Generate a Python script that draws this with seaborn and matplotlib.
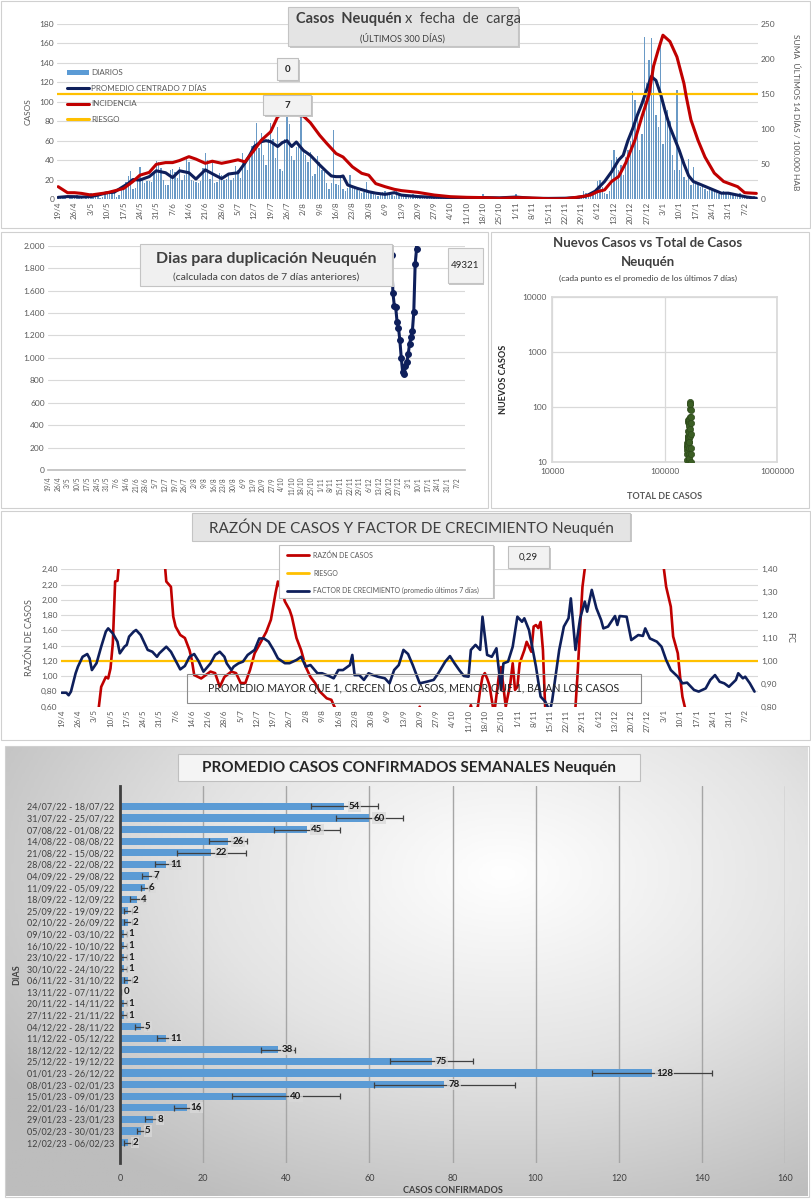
import numpy as np
import pandas as pd
import matplotlib
matplotlib.use('Agg')
import matplotlib.pyplot as plt
import matplotlib.ticker as mticker
from matplotlib.patches import Rectangle, Patch
from matplotlib.lines import Line2D
import seaborn as sns

W, H = 811, 1200

# ---------------- datos ----------------
# etiquetas del eje x (cada 7 dias desde 19/4/2022)
fechas_tick = ['19/4', '26/4', '3/5', '10/5', '17/5', '24/5', '31/5', '7/6', '14/6', '21/6',
               '28/6', '5/7', '12/7', '19/7', '26/7', '2/8', '9/8', '16/8', '23/8', '30/8',
               '6/9', '13/9', '20/9', '27/9', '4/10', '11/10', '18/10', '25/10', '1/11', '8/11',
               '15/11', '22/11', '29/11', '6/12', '13/12', '20/12', '27/12', '3/1', '10/1', '17/1',
               '24/1', '31/1', '7/2']
tick_dia = [7 * i for i in range(len(fechas_tick))]

# casos diarios (300 dias, 19/4/22 - 12/2/23)
diarios = [2, 3, 1, 2, 0, 1,
           3, 2, 4, 3, 1, 0, 2,
           4, 6, 3, 5, 4, 1, 2,
           7, 8, 6, 9, 7, 2, 4,
           12, 14, 17, 24, 29, 10, 11,
           22, 33, 20, 16, 18, 19, 17,
           28, 39, 38, 32, 20, 14, 14,
           30, 31, 28, 22, 33, 20, 25,
           41, 38, 20, 18, 17, 16, 19,
           32, 47, 40, 21, 38, 16, 17,
           27, 25, 20, 21, 25, 20, 22,
           34, 30, 22, 47, 38, 30, 44,
           55, 60, 78, 52, 68, 45, 35,
           62, 78, 62, 42, 74, 31, 29,
           62, 86, 77, 44, 40, 53, 58,
           84, 50, 45, 38, 48, 24, 26,
           44, 38, 30, 28, 16, 10, 16,
           71, 15, 14, 25, 10, 8, 11,
           25, 12, 10, 9, 8, 6, 7,
           17, 8, 6, 5, 4, 3, 6,
           7, 8, 6, 5, 4, 3, 9,
           6, 5, 4, 3, 2, 3, 5,
           3, 2, 2, 1, 2, 1, 3,
           2, 3, 2, 2, 1, 1, 3,
           1, 2, 1, 1, 1, 0, 1,
           1, 2, 1, 1, 0, 0, 1,
           1, 5, 1, 0, 0, 0, 1,
           1, 2, 1, 1, 0, 1, 1,
           2, 5, 2, 3, 1, 1, 2,
           0, 1, 0, 0, 0, 1, 0,
           1, 0, 1, 2, 1, 1, 1,
           1, 1, 2, 1, 0, 1, 1,
           3, 4, 8, 6, 4, 5, 5,
           8, 18, 20, 12, 6, 5, 8,
           40, 50, 43, 30, 35, 25, 43,
           50, 60, 111, 102, 85, 50, 67,
           167, 119, 143, 166, 136, 86, 74,
           157, 57, 85, 92, 80, 45, 30,
           112, 30, 40, 23, 20, 41, 14,
           33, 18, 16, 12, 15, 10, 8,
           12, 10, 8, 6, 5, 7, 8,
           7, 5, 4, 6, 3, 4, 6,
           3, 2, 2, 1, 2, 3, 1]
dia = list(range(len(diarios)))

# promedio centrado 7 dias (eje izq.)
promedio = [(0, 1.7), (4, 2.5), (7, 2.4), (10, 2.0), (14, 2.5), (17, 4), (21, 6.5), (24, 7),
            (28, 13), (30, 16), (32, 20), (35, 19.5), (39, 23), (42, 29), (46, 27), (49, 22),
            (52, 29), (56, 27), (59, 20.5), (63, 30), (66, 26), (70, 21), (73, 25.7), (77, 27),
            (80, 37), (82, 45), (84, 54), (87, 59), (89, 60), (91, 59), (94, 54), (96, 58),
            (98, 60), (100, 54), (102, 58.6), (105, 50), (108, 45), (112, 35), (115, 28),
            (117, 23.7), (119, 23), (121, 23), (122, 23.7), (124, 14.4), (128, 11), (133, 7.5),
            (136, 6), (140, 4.8), (144, 6.5), (147, 4), (154, 2.5), (161, 1.8), (168, 1.5),
            (175, 1.2), (182, 1.5), (189, 1.2), (196, 2), (203, 0.8), (210, 0.6), (217, 0.8),
            (222, 1.5), (226, 3), (230, 8), (234, 18), (237, 28), (240, 40), (242, 45),
            (244, 60), (246, 72), (248, 86), (250, 98), (252, 112), (254, 126), (256, 122),
            (258, 108), (260, 90), (262, 74), (264, 62), (266, 50), (268, 36), (270, 24),
            (272, 18), (275, 15), (277, 13), (281, 9), (284, 6), (287, 6), (291, 4), (295, 2),
            (299, 0.8)]

# incidencia 14 dias / 100.000 hab (eje der.)
incidencia = [(0, 17.6), (4, 9), (7, 9), (10, 8), (14, 5.7), (21, 9), (28, 15), (32, 25),
              (35, 34), (39, 38), (42, 49.5), (46, 52), (49, 52), (52, 55), (56, 60.5), (59, 57),
              (63, 51), (66, 54), (70, 51), (73, 53), (77, 56), (80, 53), (84, 70), (87, 84),
              (91, 96), (94, 117.6), (98, 125), (101, 120), (105, 118.6), (108, 109), (112, 91),
              (115, 79.5), (119, 65), (122, 60), (126, 46), (130, 36.7), (133, 34), (136, 22),
              (140, 17.6), (144, 13.8), (147, 12), (154, 9.5), (161, 5.7), (168, 3.3),
              (175, 2.4), (182, 2), (189, 1), (196, 2), (203, 1.4), (210, 0.3), (217, 0.3),
              (224, 3.3), (228, 5.7), (231, 10.5), (234, 13), (237, 25), (240, 32), (243, 51),
              (247, 84), (250, 117.6), (253, 148.6), (255, 190), (257, 213), (259, 234),
              (262, 225), (265, 203), (268, 165), (269, 146), (271, 113), (274, 84), (277, 60),
              (281, 37), (285, 25), (291, 17.6), (294, 9), (299, 8)]
riesgo_incidencia = 150

# dias para duplicacion
duplicacion = [(246, 4000), (247, 1920), (248, 1580), (249, 1465), (250, 1450), (251, 1320),
               (252, 1270), (253, 1155), (254, 1000), (255, 875), (256, 860), (257, 930),
               (258, 960), (259, 1035), (260, 1125), (261, 1185), (262, 1240), (263, 1405),
               (264, 1835), (265, 1970), (266, 3500)]

# nuevos casos vs total de casos (promedio 7 dias)
total_casos = [158200, 158300, 158400, 158600, 158800, 159000, 159200, 159400, 159600, 159800,
               160000, 160200, 160400, 160600, 160800, 161000, 161200, 161400, 161600, 161900,
               162300, 162700, 163100, 163500, 163900, 164200, 164500, 164700, 164900, 165100,
               165200, 165300, 165400, 165600, 165700, 165900, 166200, 166500, 167000, 167600,
               168300, 169000, 169600, 170100, 170500, 170800, 171000, 171100, 171200]
nuevos_casos = [11, 14, 17, 20, 22, 19, 23, 29, 27, 22,
                29, 27, 21, 30, 26, 21, 25, 27, 37, 54,
                59, 59, 54, 60, 58, 50, 45, 35, 28, 23,
                23, 14, 11, 12, 18, 30, 40, 66, 91, 114,
                126, 115, 88, 67, 52, 33, 18, 14, 10]

# razon de casos (eje izq.) y factor de crecimiento (eje der.)
razon = [(0, 0.3), (15, 0.45), (16, 0.6), (17, 0.86), (19, 0.99), (20, 0.97), (21, 1.10),
         (22, 1.43), (23, 2.24), (24, 2.25), (25, 2.6), (35, 3.5), (44, 2.6), (45, 2.24),
         (47, 2.17), (48, 1.78), (49, 1.65), (51, 1.54), (53, 1.50), (55, 1.34), (56, 1.21),
         (57, 1.015), (60, 0.97), (62, 1.015), (64, 1.06), (66, 1.04), (68, 0.86), (70, 0.99),
         (73, 1.06), (75, 1.04), (77, 0.91), (79, 0.91), (81, 1.08), (83, 1.30), (85, 1.41),
         (88, 1.58), (90, 1.74), (92, 2.09), (93, 2.24), (95, 2.09), (96, 1.98), (98, 1.87),
         (99, 1.78), (101, 1.50), (103, 1.34), (105, 1.12), (107, 0.99), (109, 0.91),
         (111, 0.80), (114, 0.71), (116, 0.69), (117, 0.62), (119, 0.5), (130, 0.3),
         (150, 0.3), (153, 0.5), (154, 0.6), (155, 0.5), (160, 0.3), (170, 0.3), (175, 0.5),
         (176, 0.62), (177, 0.5), (179, 0.6), (180, 0.82), (181, 0.99), (182, 1.04),
         (183, 0.97), (184, 0.88), (185, 0.69), (186, 0.5), (188, 0.99), (189, 1.12),
         (190, 0.86), (191, 0.6), (193, 0.91), (194, 1.17), (195, 0.82), (196, 0.86),
         (197, 1.17), (199, 1.34), (200, 1.45), (202, 1.32), (203, 1.65), (204, 1.67),
         (205, 1.63), (206, 1.71), (207, 1.34), (208, 0.56), (210, 0.3), (220, 0.3),
         (221, 0.6), (222, 1.08), (223, 1.65), (224, 2.17), (225, 2.41), (226, 3.0),
         (240, 3.5), (258, 3.0), (259, 2.41), (260, 2.17), (262, 1.91), (263, 1.52),
         (265, 1.30), (266, 0.99), (267, 0.73), (268, 0.6), (270, 0.4), (299, 0.3)]
factor = [(0, .861), (2, .861), (3, .85), (4, .866), (6, .946), (7, .975), (9, 1.018), (11, 1.03),
          (12, 1.011), (13, .96), (15, .99), (17, 1.062), (19, 1.128), (20, 1.142), (22, 1.12),
          (24, 1.084), (25, 1.033), (27, 1.062), (28, 1.07), (29, 1.106), (31, 1.128),
          (32, 1.135), (34, 1.113), (37, 1.048), (39, 1.04), (41, 1.018), (42, 1.033),
          (45, 1.062), (47, 1.04), (50, .982), (51, .963), (53, .978), (55, 1.018), (57, 1.03),
          (59, .997), (61, .953), (64, .989), (66, 1.026), (68, 1.04), (70, 1.018), (71, .989),
          (73, .96), (74, .975), (76, .989), (78, .997), (80, 1.026), (83, 1.048), (85, 1.098),
          (87, 1.098), (89, 1.084), (91, 1.05), (93, 1.011), (96, .99), (98, .99), (101, 1.004),
          (103, 1.018), (105, .975), (107, .982), (110, .946), (112, .946), (115, .934),
          (117, .924), (119, .96), (121, .96), (124, .982), (125, 1.026), (126, .938),
          (128, .938), (130, .917), (132, .946), (134, .938), (136, .931), (139, .924),
          (141, .902), (143, .96), (145, .982), (147, 1.048), (149, 1.03), (151, .982),
          (154, .902), (157, .909), (160, .917), (162, .946), (165, .997), (167, 1.021),
          (169, .989), (171, .96), (173, .934), (175, .931), (176, 1.048), (178, 1.07),
          (180, 1.048), (181, 1.193), (183, 1.026), (185, 1.018), (187, 1.055), (189, .873),
          (190, .989), (192, .997), (194, 1.062), (196, 1.193), (198, 1.171), (199, 1.186),
          (201, 1.135), (204, .975), (206, .844), (208, .822), (210, .78), (211, .829),
          (214, 1.048), (216, 1.15), (218, 1.186), (219, 1.273), (221, 1.048), (223, 1.186),
          (225, 1.259), (226, 1.215), (228, 1.31), (230, 1.23), (232, 1.179), (233, 1.142),
          (235, 1.15), (238, 1.196), (239, 1.157), (240, 1.196), (243, 1.193), (245, 1.091),
          (248, 1.113), (250, 1.109), (251, 1.142), (253, 1.098), (256, 1.084), (258, 1.062),
          (260, 1.004), (262, .96), (265, .931), (267, .902), (269, .905), (272, .873),
          (274, .866), (277, .88), (279, .917), (281, .938), (283, .909), (285, .902),
          (287, .887), (290, .917), (291, .946), (293, .924), (294, .931), (296, .902),
          (298, .866)]
riesgo_fc = 1.0

# promedio semanal de casos confirmados
semanas = ['24/07/22 - 18/07/22', '31/07/22 - 25/07/22', '07/08/22 - 01/08/22',
           '14/08/22 - 08/08/22', '21/08/22 - 15/08/22', '28/08/22 - 22/08/22',
           '04/09/22 - 29/08/22', '11/09/22 - 05/09/22', '18/09/22 - 12/09/22',
           '25/09/22 - 19/09/22', '02/10/22 - 26/09/22', '09/10/22 - 03/10/22',
           '16/10/22 - 10/10/22', '23/10/22 - 17/10/22', '30/10/22 - 24/10/22',
           '06/11/22 - 31/10/22', '13/11/22 - 07/11/22', '20/11/22 - 14/11/22',
           '27/11/22 - 21/11/22', '04/12/22 - 28/11/22', '11/12/22 - 05/12/22',
           '18/12/22 - 12/12/22', '25/12/22 - 19/12/22', '01/01/23 - 26/12/22',
           '08/01/23 - 02/01/23', '15/01/23 - 09/01/23', '22/01/23 - 16/01/23',
           '29/01/23 - 23/01/23', '05/02/23 - 30/01/23', '12/02/23 - 06/02/23']
prom_semanal = [54, 60, 45, 26, 22, 11, 7, 6, 4, 2, 2, 1, 1, 1, 1, 2, 0, 1, 1, 5, 11, 38, 75,
                128, 78, 40, 16, 8, 5, 2]
error_semanal = [8, 8, 8, 4.5, 8.3, 2.5, 1.8, 1, 1.5, 1, 1, 0.8, 0.8, 0.8, 0.8, 1, 0.3, 0.8,
                 0.8, 1.5, 2, 4, 10, 14.5, 17, 13, 3, 2, 1, 1]

# ---------------- estilo ----------------
sns.set_theme(style="white")
plt.rcParams['font.family'] = ['Lato', 'DejaVu Sans']

AZUL_BAR = '#5b9bd5'
NAVY = '#0e1f5b'
ROJO = '#c00000'
NARANJA = '#ffc000'
GRIS_TXT = '#595959'
GRID = '#d9d9d9'

fig = plt.figure(figsize=(W / 100, H / 100), dpi=100)
fig.patch.set_facecolor('white')


def px_box(x0, y0, x1, y1):
    return [x0 / W, 1 - y1 / H, (x1 - x0) / W, (y1 - y0) / H]


def rect(x0, y0, x1, y1, fc='none', ec='#d0d0d0', lw=0.8, z=0.5, shadow=False):
    if shadow:
        fig.add_artist(Rectangle((x0 / W + 1.5 / W, 1 - y1 / H - 1.5 / H), (x1 - x0) / W,
                                 (y1 - y0) / H, transform=fig.transFigure,
                                 facecolor='#c8c8c8', edgecolor='none', zorder=z - 0.01))
    fig.add_artist(Rectangle((x0 / W, 1 - y1 / H), (x1 - x0) / W, (y1 - y0) / H,
                             transform=fig.transFigure, facecolor=fc, edgecolor=ec,
                             linewidth=lw, zorder=z))


def ftext(x, y, s, **kw):
    kw.setdefault('zorder', 5)
    return fig.text(x / W, 1 - y / H, s, **kw)


def style_ax(ax):
    for sp in ax.spines.values():
        sp.set_visible(False)
    ax.tick_params(length=0, labelsize=6, colors=GRIS_TXT, pad=2)


# marcos de los paneles
rect(1, 1, 810, 228)
rect(1, 232, 488, 508)
rect(491, 232, 809, 508)
rect(1, 511, 810, 740)

# ================= panel 1: casos diarios =================
ax1 = fig.add_axes(px_box(57, 24, 757.5, 199))
style_ax(ax1)
sns.barplot(x=dia, y=diarios, native_scale=True, color=AZUL_BAR, width=0.6,
            errorbar=None, linewidth=0, ax=ax1)
p_dia, p_val = zip(*promedio)
sns.lineplot(x=list(p_dia), y=list(p_val), color=NAVY, linewidth=2.2, ax=ax1)
ax1.set_ylim(0, 180)
ax1.set_yticks(range(0, 181, 20))
ax1.grid(axis='y', color=GRID, linewidth=0.8)
ax1.set_axisbelow(True)
ax1.set_xlim(-0.5, 299.5)
ax1.set_xticks(tick_dia)
ax1.set_xticklabels(fechas_tick, rotation=90, fontsize=5.8)
ax1.set_xlabel('')
ax1.set_ylabel('CASOS', fontsize=6, color=GRIS_TXT, labelpad=6)

ax1b = ax1.twinx()
style_ax(ax1b)
ax1b.axhline(riesgo_incidencia, color=NARANJA, linewidth=1.6)
i_dia, i_val = zip(*incidencia)
sns.lineplot(x=list(i_dia), y=list(i_val), color=ROJO, linewidth=2.2, ax=ax1b)
ax1b.set_ylim(0, 250)
ax1b.set_yticks(range(0, 251, 50))
ax1b.set_ylabel('')
ax1b.set_xlim(-0.5, 299.5)
ftext(796, 112, 'SUMA  ÚLTIMOS 14 DÍAS / 100.000 HAB', rotation=-90, ha='center',
      va='center', fontsize=6, color=GRIS_TXT)

handles1 = [Patch(facecolor=AZUL_BAR, edgecolor='none'),
            Line2D([], [], color=NAVY, lw=2.2),
            Line2D([], [], color=ROJO, lw=2.2),
            Line2D([], [], color=NARANJA, lw=2.2)]
leg1 = fig.legend(handles1, ['DIARIOS', 'PROMEDIO CENTRADO 7 DÍAS', 'INCIDENCIA', 'RIESGO'],
                  loc='upper left', bbox_to_anchor=(60 / W, 1 - 62 / H), frameon=False,
                  fontsize=5.8, labelspacing=1.05, handlelength=2.7, handleheight=0.5,
                  handletextpad=0.3, labelcolor=GRIS_TXT)
leg1.set_zorder(6)

rect(288, 7, 518, 46, fc='#e4e4e4', ec='#c4c4c4', z=4, shadow=True)
ftext(402, 19, 'Casos  Neuquén', ha='right', va='center', fontsize=10.5,
      fontweight='bold', color='#3f3f3f')
ftext(405, 19, 'x  fecha  de  carga', ha='left', va='center', fontsize=10.5, color='#3f3f3f')
ftext(402, 38, '(ÚLTIMOS 300 DÍAS)', ha='center', va='center', fontsize=6.5, color='#3f3f3f')
rect(277, 58, 298, 80, fc='#f2f2f2', ec='#bfbfbf', z=4, shadow=True)
ftext(287.5, 69, '0', ha='center', va='center', fontsize=7, fontweight='bold', color='#262626')
rect(263, 95, 311, 115, fc='#f2f2f2', ec='#bfbfbf', z=4, shadow=True)
ftext(287, 105, '7', ha='center', va='center', fontsize=7, fontweight='bold', color='#262626')

# ================= panel 2: dias para duplicacion =================
ax2 = fig.add_axes(px_box(47.5, 245.7, 464.5, 470))
style_ax(ax2)
d_dia, d_val = zip(*duplicacion)
sns.lineplot(x=list(d_dia), y=list(d_val), color=NAVY, linewidth=2.2, marker='o',
             markersize=4.2, markeredgecolor=NAVY, ax=ax2)
ax2.set_ylim(0, 2000)
ax2.set_yticks(range(0, 2001, 200))
ax2.yaxis.set_major_formatter(mticker.FuncFormatter(
    lambda v, p: f"{int(v):,}".replace(',', '.')))
ax2.grid(axis='y', color=GRID, linewidth=0.8)
ax2.set_xlim(-0.5, 299.5)
ax2.set_xticks(tick_dia)
ax2.set_xticklabels(fechas_tick, rotation=90, fontsize=4.8)
ax2.spines['bottom'].set_visible(True)
ax2.spines['bottom'].set_color('#bfbfbf')
ax2.tick_params(axis='x', length=3, color='#bfbfbf', direction='out')
ax2.set_xlabel('')
ax2.set_ylabel('')
rect(140, 244, 392, 286, fc='#f0f0f0', ec='#c4c4c4', z=4, shadow=True)
ftext(266, 259, 'Dias para duplicación Neuquén', ha='center', va='center', fontsize=11.5,
      fontweight='bold', color='#3f3f3f')
ftext(266, 277, '(calculada con datos de 7 días anteriores)', ha='center', va='center',
      fontsize=7.5, color='#3f3f3f')
rect(448, 248, 483, 283, fc='#f2f2f2', ec='#c4c4c4', z=4, shadow=True)
ftext(465.5, 265.5, '49321', ha='center', va='center', fontsize=7, color='#262626')

# ================= panel 3: nuevos vs total =================
ax3 = fig.add_axes(px_box(552.3, 296.7, 777.3, 462.3))
sns.scatterplot(x=total_casos, y=nuevos_casos, color='#3b5e24', edgecolor='#2f4b1c',
                s=20, linewidth=0.5, ax=ax3, zorder=3)
ax3.set_xscale('log')
ax3.set_yscale('log')
ax3.set_xlim(10000, 1000000)
ax3.set_ylim(10, 10000)
ax3.xaxis.set_major_locator(mticker.FixedLocator([1e4, 1e5, 1e6]))
ax3.yaxis.set_major_locator(mticker.FixedLocator([10, 100, 1000, 10000]))
ax3.xaxis.set_minor_locator(mticker.NullLocator())
ax3.yaxis.set_minor_locator(mticker.NullLocator())
ax3.xaxis.set_major_formatter(mticker.FuncFormatter(lambda v, p: f"{int(v)}"))
ax3.yaxis.set_major_formatter(mticker.FuncFormatter(lambda v, p: f"{int(v)}"))
ax3.grid(True, which='major', color=GRID, linewidth=0.9)
for sp in ax3.spines.values():
    sp.set_color(GRID)
ax3.tick_params(length=0, labelsize=6, colors=GRIS_TXT, pad=4)
ax3.set_xlabel('TOTAL DE CASOS', fontsize=6.5, fontweight='bold', color=GRIS_TXT, labelpad=12)
ax3.set_ylabel('NUEVOS CASOS', fontsize=6.5, fontweight='bold', color='#262626', labelpad=10)
ftext(648, 243, 'Nuevos Casos vs Total de Casos', ha='center', va='center', fontsize=9.5,
      fontweight='bold', color='#3f3f3f')
ftext(648, 262, 'Neuquén', ha='center', va='center', fontsize=9.5, fontweight='bold',
      color='#3f3f3f')
ftext(648, 278, '(cada punto es el promedio de los últimos 7 días)', ha='center',
      va='center', fontsize=6, color='#3f3f3f')

# ================= panel 4: razon y factor de crecimiento =================
ax4 = fig.add_axes(px_box(60.5, 569.3, 758, 706.7))
style_ax(ax4)
ax4.set_ylim(0.6, 2.4)
ax4.set_yticks(np.arange(0.6, 2.41, 0.2))
ax4.yaxis.set_major_formatter(mticker.FuncFormatter(lambda v, p: f"{v:.2f}".replace('.', ',')))
ax4.grid(axis='y', color=GRID, linewidth=0.8)
ax4.set_axisbelow(True)
r_dia, r_val = zip(*razon)
sns.lineplot(x=list(r_dia), y=list(r_val), color=ROJO, linewidth=1.9, ax=ax4, zorder=3)
ax4.set_xlim(-0.5, 299.5)
ax4.set_xticks(tick_dia)
ax4.set_xticklabels(fechas_tick, rotation=90, fontsize=5.8)
ax4.set_xlabel('')
ax4.set_ylabel('RAZÓN DE CASOS', fontsize=6.5, color=GRIS_TXT, labelpad=5)

ax4b = ax4.twinx()
style_ax(ax4b)
ax4b.axhline(riesgo_fc, color=NARANJA, linewidth=1.6, zorder=2)
f_dia, f_val = zip(*factor)
sns.lineplot(x=list(f_dia), y=list(f_val), color=NAVY, linewidth=1.9, ax=ax4b, zorder=3)
ax4b.set_ylim(0.8, 1.4)
ax4b.set_yticks(np.arange(0.8, 1.41, 0.1))
ax4b.yaxis.set_major_formatter(mticker.FuncFormatter(lambda v, p: f"{v:.2f}".replace('.', ',')))
ax4b.set_ylabel('FC', fontsize=6.5, color=GRIS_TXT, rotation=-90, labelpad=12)
ax4b.set_xlim(-0.5, 299.5)

rect(187, 674, 641, 703, fc='none', ec='#8c8c8c', lw=0.8, z=1)
ftext(414, 688.5, 'PROMEDIO MAYOR QUE 1, CRECEN LOS CASOS, MENOR QUE 1, BAJAN LOS CASOS',
      ha='center', va='center', fontsize=7.6, color='#262626', zorder=1)

rect(192, 513, 630, 541, fc='#e4e4e4', ec='#c4c4c4', z=4, shadow=True)
ftext(411, 527.5, 'RAZÓN DE CASOS Y FACTOR DE CRECIMIENTO Neuquén', ha='center', va='center',
      fontsize=11, color='#3f3f3f')
rect(279, 545, 493, 598, fc='white', ec='#bfbfbf', z=4, shadow=True)
handles4 = [Line2D([], [], color=ROJO, lw=2), Line2D([], [], color=NARANJA, lw=2),
            Line2D([], [], color=NAVY, lw=2)]
leg4 = fig.legend(handles4, ['RAZÓN DE CASOS', 'RIESGO',
                             'FACTOR DE CRECIMIENTO (promedio últimos 7 días)'],
                  loc='upper left', bbox_to_anchor=(281 / W, 1 - 545 / H), frameon=False,
                  fontsize=5, labelspacing=1.55, handlelength=3.2, handletextpad=0.5,
                  labelcolor=GRIS_TXT)
leg4.set_zorder(6)
rect(508, 546, 549, 568, fc='#f2f2f2', ec='#bfbfbf', z=4, shadow=True)
ftext(528.5, 557, '0,29', ha='center', va='center', fontsize=7, color='#262626')

# ================= panel 5: promedio semanal =================
bg = fig.add_axes(px_box(6, 747, 808, 1196), zorder=-1)
gx, gy = np.meshgrid(np.linspace(0, 1, 200), np.linspace(0, 1, 200))
dist = np.sqrt(((gx - 0.62) * 1.0) ** 2 + ((gy - 0.28) * 0.9) ** 2)
bg.imshow(np.clip(dist / 0.75, 0, 1), cmap=matplotlib.colors.LinearSegmentedColormap.from_list(
    'g', ['#ffffff', '#e4e4e4', '#bdbdbd']), aspect='auto', extent=(0, 1, 1, 0),
    vmin=0, vmax=1)
bg.set_axis_off()
rect(5, 746, 809, 1197, fc='none', ec='#d0d0d0', z=0.5)

ax5 = fig.add_axes(px_box(120, 785.7, 785, 1163.3))
ax5.patch.set_alpha(0)
df5 = pd.DataFrame({'semana': semanas, 'casos': prom_semanal})
sns.barplot(data=df5, x='casos', y='semana', color=AZUL_BAR, width=0.62, errorbar=None,
            linewidth=0, saturation=1, ax=ax5, zorder=2)
ax5.errorbar(prom_semanal, range(len(semanas)), xerr=error_semanal, fmt='none',
             ecolor='#404040', elinewidth=0.9, capsize=2.2, capthick=0.9, zorder=3)
for i, v in enumerate(prom_semanal):
    ax5.text(v + 1.0, i, str(v), ha='left', va='center', fontsize=7, fontweight='bold',
             color='#1a1a1a', zorder=4,
             bbox=dict(facecolor='#d9d9d9', alpha=0.75, edgecolor='none', pad=0.8))
ax5.set_xlim(0, 160)
ax5.set_xticks(range(0, 161, 20))
ax5.grid(axis='x', color='#a6a6a6', linewidth=1.0)
ax5.set_axisbelow(True)
for sp in ax5.spines.values():
    sp.set_visible(False)
ax5.spines['left'].set_visible(True)
ax5.spines['left'].set_color('#404040')
ax5.spines['left'].set_linewidth(2)
ax5.tick_params(length=0, labelsize=6.5, colors='#404040', pad=4)
ax5.tick_params(axis='x', pad=8)
ax5.set_xlabel('CASOS CONFIRMADOS', fontsize=6.5, fontweight='bold', color='#404040',
               labelpad=2)
ax5.set_ylabel('DIAS', fontsize=6.5, fontweight='bold', color='#404040', labelpad=4)

rect(178, 754, 640, 781, fc='#f4f4f4', ec='#bfbfbf', z=4)
ftext(409, 768, 'PROMEDIO CASOS CONFIRMADOS SEMANALES Neuquén', ha='center', va='center',
      fontsize=11, fontweight='bold', color='#262626')

fig.savefig('out.png', dpi=100)
